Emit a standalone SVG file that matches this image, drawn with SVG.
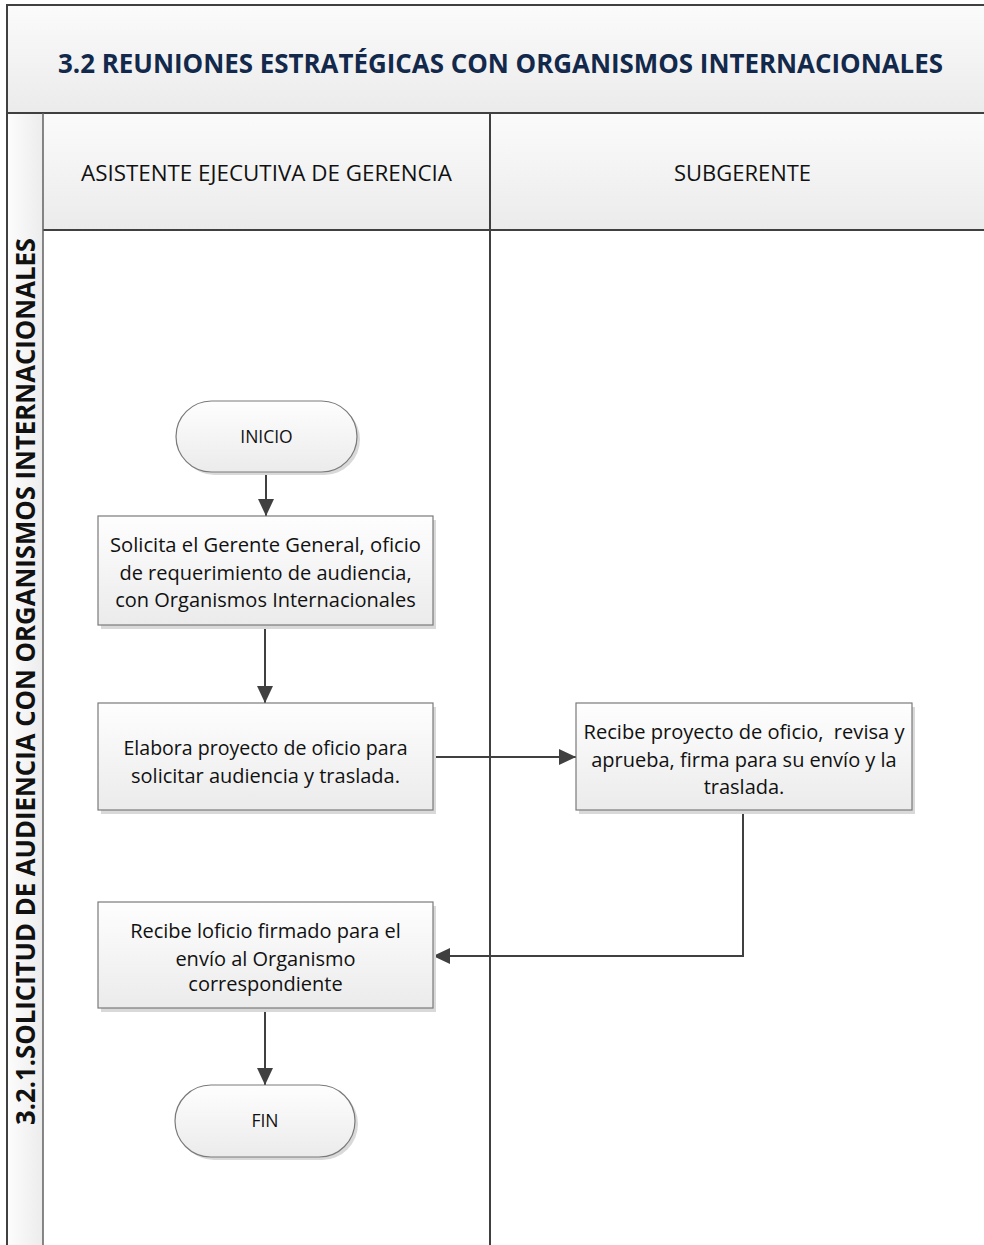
<svg xmlns="http://www.w3.org/2000/svg" width="984" height="1245" viewBox="0 0 984 1245">
  <defs>
    <linearGradient id="bandFill" x1="0" y1="0" x2="0" y2="1">
      <stop offset="0" stop-color="#fbfbfb"/>
      <stop offset="1" stop-color="#ebebeb"/>
    </linearGradient>
    <linearGradient id="sideFill" x1="0" y1="0" x2="1" y2="0">
      <stop offset="0" stop-color="#fdfdfd"/>
      <stop offset="1" stop-color="#ececec"/>
    </linearGradient>
    <linearGradient id="shapeFill" x1="0" y1="0" x2="0" y2="1">
      <stop offset="0" stop-color="#fefefe"/>
      <stop offset="1" stop-color="#ebebeb"/>
    </linearGradient>
    <marker id="arrow" viewBox="0 0 17 16" refX="17" refY="8" markerWidth="17" markerHeight="16" markerUnits="userSpaceOnUse" orient="auto">
      <path d="M0,0 L17,8 L0,16 Z" fill="#404040"/>
    </marker>
  </defs>
  <style>
    .frame { stroke: #404040; stroke-width: 2; fill: none; }
    .shadow { fill: #d9d9d9; }
    .shape { fill: url(#shapeFill); stroke: #7a7a7a; stroke-width: 1.2; }
    .txt { font-family: "Open Sans", "Liberation Sans", sans-serif; font-size: 20px; fill: #111111; text-anchor: middle; white-space: pre; }
    .term { font-family: "Open Sans", "Liberation Sans", sans-serif; font-size: 17.5px; fill: #111111; text-anchor: middle; }
    .lane { font-family: "Open Sans", "Liberation Sans", sans-serif; font-size: 22px; fill: #111111; text-anchor: middle; }
    .title { font-family: "Open Sans", "Liberation Sans", sans-serif; font-weight: bold; font-size: 23px; fill: #13294b; text-anchor: middle; }
    .side { font-family: "Open Sans", "Liberation Sans", sans-serif; font-weight: bold; font-size: 27px; fill: #111111; text-anchor: middle; }
    .conn { stroke: #404040; stroke-width: 2; fill: none; marker-end: url(#arrow); }
  </style>

  <rect width="984" height="1245" fill="#ffffff"/>

  <!-- Pool and lane structure -->
  <g id="pool">
    <rect x="7" y="5" width="977" height="108" fill="url(#bandFill)"/>
    <rect x="43" y="113" width="941" height="117" fill="url(#bandFill)"/>
    <rect x="7" y="113" width="36" height="1132" fill="url(#sideFill)"/>
    <line class="frame" x1="7" y1="5" x2="984" y2="5"/>
    <line class="frame" x1="7" y1="4" x2="7" y2="1245"/>
    <line class="frame" x1="7" y1="113" x2="984" y2="113"/>
    <line class="frame" x1="43" y1="230" x2="984" y2="230"/>
    <line x1="43" y1="113" x2="43" y2="1245" stroke="#606060" stroke-width="1.5"/>
    <line class="frame" x1="490" y1="113" x2="490" y2="1245"/>
    <!-- title set slightly condensed: smaller face stretched vertically -->
    <text class="title" transform="translate(500.5,73) scale(1,1.2)" x="0" y="0" textLength="885" lengthAdjust="spacingAndGlyphs">3.2 REUNIONES ESTRATÉGICAS CON ORGANISMOS INTERNACIONALES</text>
    <text class="side" transform="translate(35,681.5) rotate(-90)" x="0" y="0" textLength="887" lengthAdjust="spacingAndGlyphs">3.2.1.SOLICITUD DE AUDIENCIA CON ORGANISMOS INTERNACIONALES</text>
    <text class="lane" x="266.5" y="181" textLength="371" lengthAdjust="spacingAndGlyphs">ASISTENTE EJECUTIVA DE GERENCIA</text>
    <text class="lane" x="742.5" y="181" textLength="137" lengthAdjust="spacingAndGlyphs">SUBGERENTE</text>
  </g>

  <!-- Connectors -->
  <g id="connectors">
    <line class="conn" x1="266" y1="472" x2="266" y2="516"/>
    <line class="conn" x1="265" y1="625" x2="265" y2="703"/>
    <line class="conn" x1="433" y1="757" x2="576" y2="757"/>
    <polyline class="conn" points="743,810 743,956 433,956"/>
    <line class="conn" x1="265" y1="1008" x2="265" y2="1085"/>
  </g>

  <!-- Start terminal -->
  <g id="inicio">
    <rect class="shadow" x="179" y="404" width="181" height="71" rx="35.5"/>
    <rect class="shape" x="176" y="401" width="181" height="71" rx="35.5"/>
    <text class="term" x="266.5" y="443">INICIO</text>
  </g>

  <!-- Process: request letter -->
  <g id="solicita">
    <rect class="shadow" x="101" y="520" width="335" height="109"/>
    <rect class="shape" x="98" y="516" width="335" height="109"/>
    <text class="txt" x="265.5" y="552" textLength="311" lengthAdjust="spacingAndGlyphs">Solicita el Gerente General, oficio</text>
    <text class="txt" x="265.5" y="579.5">de requerimiento de audiencia,</text>
    <text class="txt" x="265.5" y="607">con Organismos Internacionales</text>
  </g>

  <!-- Process: draft letter -->
  <g id="elabora">
    <rect class="shadow" x="101" y="707" width="335" height="107"/>
    <rect class="shape" x="98" y="703" width="335" height="107"/>
    <text class="txt" x="265.5" y="755" textLength="284" lengthAdjust="spacingAndGlyphs">Elabora proyecto de oficio para</text>
    <text class="txt" x="265.5" y="783">solicitar audiencia y traslada.</text>
  </g>

  <!-- Process: review and sign -->
  <g id="revisa">
    <rect class="shadow" x="579" y="707" width="336" height="107"/>
    <rect class="shape" x="576" y="703" width="336" height="107"/>
    <text class="txt" x="744" y="739" textLength="321" lengthAdjust="spacingAndGlyphs">Recibe proyecto de oficio,  revisa y</text>
    <text class="txt" x="744" y="766.5">aprueba, firma para su envío y la</text>
    <text class="txt" x="744" y="794">traslada.</text>
  </g>

  <!-- Process: receive signed letter -->
  <g id="recibe">
    <rect class="shadow" x="101" y="906" width="335" height="106"/>
    <rect class="shape" x="98" y="902" width="335" height="106"/>
    <text class="txt" x="265.5" y="938">Recibe loficio firmado para el</text>
    <text class="txt" x="265.5" y="966">envío al Organismo</text>
    <text class="txt" x="265.5" y="991">correspondiente</text>
  </g>

  <!-- End terminal -->
  <g id="fin">
    <rect class="shadow" x="178" y="1088" width="180" height="72" rx="36"/>
    <rect class="shape" x="175" y="1085" width="180" height="72" rx="36"/>
    <text class="term" x="265" y="1127">FIN</text>
  </g>
</svg>
